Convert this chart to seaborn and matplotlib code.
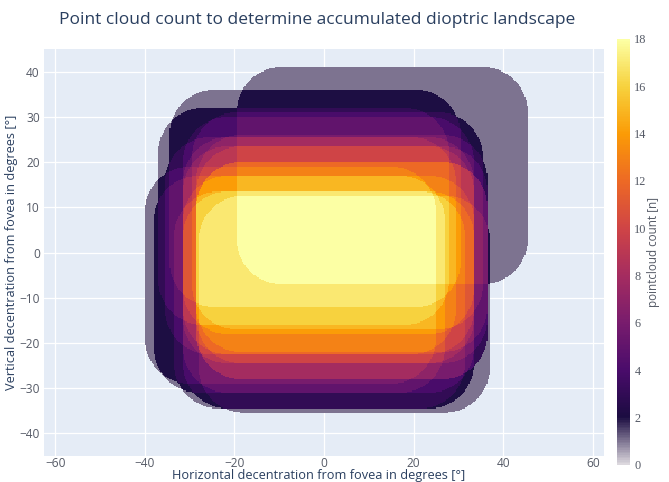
import numpy as np
import pandas as pd
import matplotlib
matplotlib.use("Agg")
import matplotlib.pyplot as plt
import seaborn as sns
from matplotlib.colors import LinearSegmentedColormap

# Centre (deg) of each measured point-cloud footprint on the retina
cloud_cx = [13.0, -2.0, -4.5, 3.0, 1.0, 4.0, 1.0, -3.0, 4.0, 1.0,
            -7.5, 4.0, 1.0, -5.5, 4.0, 1.0, 4.5, -1.0]
cloud_cy = [17.0, 12.0, 8.0, 7.0, 6.0, 2.0, 1.5, 1.5, -0.5, -0.5,
            -5.0, -4.0, -7.0, -7.0, -4.0, -10.5, -11.4, -10.5]
# Footprint extent of one point cloud (deg) and its corner rounding
cloud_width = 65.0
cloud_height = 48.0
cloud_corner = 10.0

x_ticks = [-60, -40, -20, 0, 20, 40, 60]
y_ticks = [-40, -30, -20, -10, 0, 10, 20, 30, 40]
cbar_ticks = list(range(0, 19, 2))

# Sampling grid of the landscape
step = 0.25
x_lo, x_hi = -62.5, 62.5
y_lo, y_hi = -45.0, 45.0
x_centers = np.arange(x_lo + step / 2, x_hi, step)
y_centers = np.arange(y_hi - step / 2, y_lo, -step)
X, Y = np.meshgrid(x_centers, y_centers)

counts = np.zeros_like(X, dtype=int)
hw = cloud_width / 2 - cloud_corner
hh = cloud_height / 2 - cloud_corner
for cx, cy in zip(cloud_cx, cloud_cy):
    dx = np.maximum(np.abs(X - cx) - hw, 0)
    dy = np.maximum(np.abs(Y - cy) - hh, 0)
    counts += (dx ** 2 + dy ** 2 <= cloud_corner ** 2).astype(int)

df = pd.DataFrame(counts, index=np.round(y_centers, 3), columns=np.round(x_centers, 3))

# Inferno scale with a pale start so a single cloud reads as a translucent grey
stops = [(0.0, "#dcd8de"), (1 / 9, "#1b0c41"), (2 / 9, "#4a0c6b"), (3 / 9, "#781c6d"),
         (4 / 9, "#a52c60"), (5 / 9, "#cf4446"), (6 / 9, "#ed6925"), (7 / 9, "#fb9b06"),
         (8 / 9, "#f7d13d"), (1.0, "#fcffa4")]
cmap = LinearSegmentedColormap.from_list("pale_inferno", stops)

sns.set_theme(style="darkgrid")
plt.rcParams["font.family"] = ["Open Sans", "DejaVu Sans"]

fig = plt.figure(figsize=(6.69, 4.82), dpi=100)
ax = fig.add_axes([0.0658, 0.0539, 0.8370, 0.8444])
cax = fig.add_axes([0.922, 0.0353, 0.020, 0.8838])

sns.heatmap(df, mask=counts == 0, cmap=cmap, vmin=0, vmax=18, ax=ax, cbar_ax=cax,
            xticklabels=False, yticklabels=False, rasterized=True,
            cbar_kws={"ticks": cbar_ticks})

ax.set_facecolor("#E5ECF6")
for s in ax.spines.values():
    s.set_visible(False)

ax.set_xticks([(v - x_lo) / step for v in x_ticks])
ax.set_xticklabels([str(v).replace("-", "\u2212") for v in x_ticks])
ax.set_yticks([(y_hi - v) / step for v in y_ticks])
ax.set_yticklabels([str(v).replace("-", "\u2212") for v in y_ticks], rotation=0)
ax.tick_params(axis="both", length=0, labelsize=8.6, colors="#555a66", pad=3)
ax.tick_params(axis="x", pad=0.5)
ax.set_axisbelow(True)
ax.grid(True, color="white", linewidth=0.9)

ax.set_xlabel("Horizontal decentration from fovea in degrees [°]", fontsize=9.2, color="#2a3f5f")
ax.set_ylabel("Vertical decentration from fovea in degrees [°]", fontsize=9.2, color="#2a3f5f")
ax.xaxis.set_label_coords(0.49, -0.033)
ax.yaxis.set_label_coords(-0.046, 0.5)

cbar = ax.collections[0].colorbar
cbar.outline.set_visible(False)
cax.tick_params(length=0, labelsize=8.8, colors="#555a66", pad=3)
for t in cax.get_yticklabels():
    t.set_family("Liberation Serif")
cax.set_ylabel("pointcloud count [n]", fontsize=8.4, color="#555a66", labelpad=0)
cax.yaxis.set_label_position("right")

fig.text(0.4746, 0.958, "Point cloud count to determine accumulated dioptric landscape",
         ha="center", va="center", fontsize=12.5, color="#2a3f5f")

fig.savefig("out.png", dpi=100)
